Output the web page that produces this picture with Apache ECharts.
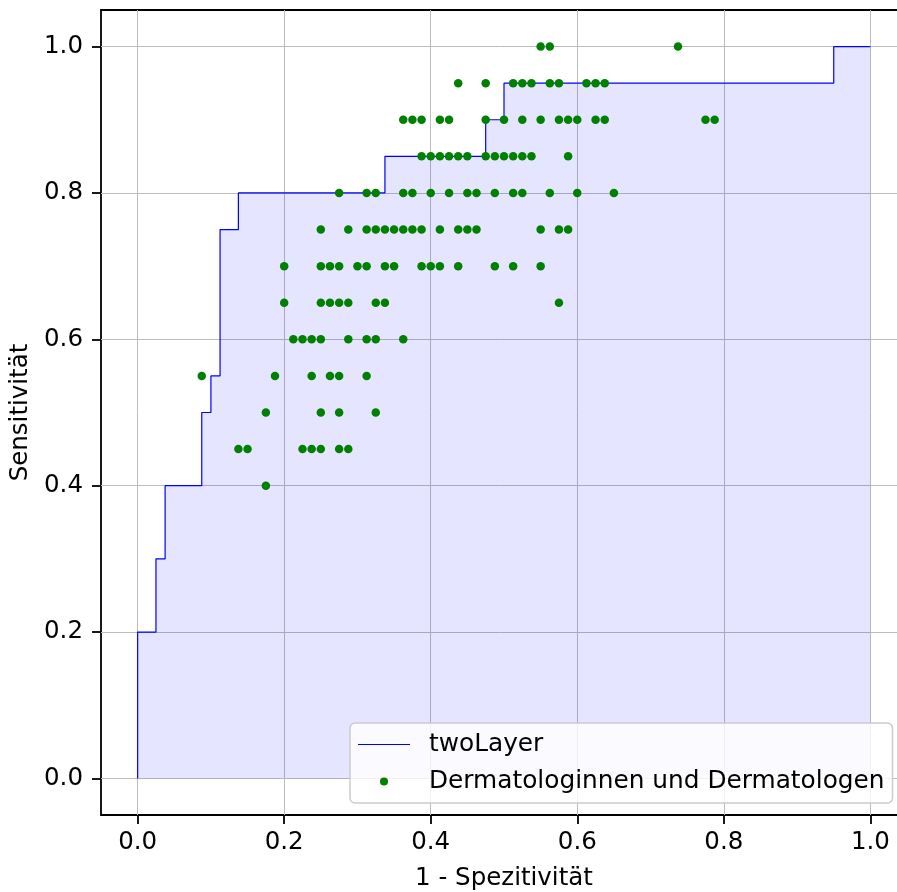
<!DOCTYPE html>
<html>
<head>
<meta charset="utf-8">
<script src="https://cdn.jsdelivr.net/npm/echarts@6/dist/echarts.min.js"></script>
<style>
  html, body { margin: 0; padding: 0; background: #fff; }
  #chart { width: 897px; height: 892px; }
</style>
</head>
<body>
<div id="chart"></div>
<script>
// axis ticks
var tickValues = [0, 0.2, 0.4, 0.6, 0.8, 1.0];

// ROC curve of the model (step corners)
var rocFpr = [0, 0, 0.025, 0.0375, 0.0875, 0.1, 0.1125, 0.1375, 0.3375, 0.475, 0.5, 0.95, 1.0];
var rocTpr = [0, 0.2, 0.3, 0.4, 0.5, 0.55, 0.75, 0.8, 0.85, 0.9, 0.95, 1.0, 1.0];

// dermatologists, grouped by sensitivity
var dermSens = [1.0, 0.95, 0.9, 0.85, 0.8, 0.75, 0.7, 0.65, 0.6, 0.55, 0.5, 0.45, 0.4];
var dermFpr = [
  [0.55, 0.5625, 0.7375],
  [0.4375, 0.475, 0.5125, 0.525, 0.5375, 0.5625, 0.575, 0.6125, 0.625, 0.6375],
  [0.3625, 0.375, 0.3875, 0.4125, 0.425, 0.475, 0.5, 0.525, 0.55, 0.575, 0.5875, 0.6, 0.625, 0.6375, 0.775, 0.7875],
  [0.3875, 0.4, 0.4125, 0.425, 0.4375, 0.45, 0.475, 0.4875, 0.5, 0.5125, 0.525, 0.5375, 0.5875],
  [0.275, 0.3125, 0.325, 0.3625, 0.375, 0.4, 0.425, 0.45, 0.4625, 0.4875, 0.5125, 0.525, 0.5625, 0.6, 0.65],
  [0.25, 0.2875, 0.3125, 0.325, 0.3375, 0.35, 0.3625, 0.375, 0.3875, 0.4125, 0.4375, 0.45, 0.4625, 0.55, 0.575, 0.5875],
  [0.2, 0.25, 0.2625, 0.275, 0.3, 0.3125, 0.3375, 0.35, 0.3875, 0.4, 0.4125, 0.4375, 0.4875, 0.5125, 0.55],
  [0.2, 0.25, 0.2625, 0.275, 0.2875, 0.325, 0.3375, 0.575],
  [0.2125, 0.225, 0.2375, 0.25, 0.2875, 0.3125, 0.325, 0.3625],
  [0.0875, 0.1875, 0.2375, 0.2625, 0.275, 0.3125],
  [0.175, 0.25, 0.275, 0.325],
  [0.1375, 0.15, 0.225, 0.2375, 0.25, 0.275, 0.2875],
  [0.175]
];

var rocData = rocFpr.map(function (x, i) { return [x, rocTpr[i]]; });
var dermData = [];
dermSens.forEach(function (s, i) {
  dermFpr[i].forEach(function (x) { dermData.push([x, s]); });
});

var font = 'DejaVu Sans';
var fs = 24.5;

function axisCommon() {
  return {
    type: 'value',
    min: -0.05,
    max: 1.05,
    axisLine: { show: false, onZero: false },
    axisTick: { show: true, customValues: tickValues, length: 9, lineStyle: { color: '#000', width: 1.8 } },
    axisLabel: {
      customValues: tickValues,
      fontFamily: font, fontSize: fs, color: '#000',
      formatter: function (v) { return v.toFixed(1); }
    },
    splitLine: { show: true, lineStyle: { color: '#bcbcbc', width: 1 } },
    nameTextStyle: { fontFamily: font, fontSize: fs, color: '#000' },
    nameLocation: 'middle'
  };
}

var xAxis = axisCommon();
xAxis.name = '1 - Spezitivität';
xAxis.nameGap = 51;
xAxis.axisLabel.margin = 15;

var yAxis = axisCommon();
yAxis.name = 'Sensitivität';
yAxis.nameGap = 66;
yAxis.axisLabel.margin = 18;

var chart = echarts.init(document.getElementById('chart'), null, { renderer: 'canvas' });
chart.setOption({
  animation: false,
  backgroundColor: '#fff',
  grid: {
    left: 101, top: 10, width: 806, height: 805,
    show: true, borderColor: '#000', borderWidth: 1.8, backgroundColor: 'transparent',
    containLabel: false,
    outerBoundsMode: 'none'
  },
  xAxis: xAxis,
  yAxis: yAxis,
  legend: {
    orient: 'vertical',
    left: 350, top: 723,
    padding: [9, 8, 9, 8],
    itemGap: 12,
    itemWidth: 52, itemHeight: 8,
    backgroundColor: 'rgba(255,255,255,0.8)',
    borderColor: '#cccccc', borderWidth: 1.5, borderRadius: 5,
    textStyle: { fontFamily: font, fontSize: 24.8, color: '#000', padding: [0, 0, 0, 14] },
    data: [
      { name: 'twoLayer', icon: 'path://M0,0L100,0L100,2.2L0,2.2Z', itemStyle: { color: '#0000ff' } },
      { name: 'Dermatologinnen und Dermatologen', icon: 'circle' }
    ]
  },
  series: [
    {
      name: 'twoLayer',
      type: 'line',
      step: 'end',
      data: rocData,
      symbol: 'none',
      lineStyle: { color: '#0000ff', width: 1.2 },
      itemStyle: { color: '#0000ff' },
      areaStyle: { color: 'rgba(0,0,255,0.1)', opacity: 1 }
    },
    {
      name: 'Dermatologinnen und Dermatologen',
      type: 'scatter',
      data: dermData,
      symbol: 'circle',
      symbolSize: 8.5,
      itemStyle: { color: '#008000', opacity: 1 },
      z: 3
    }
  ]
});
</script>
</body>
</html>
